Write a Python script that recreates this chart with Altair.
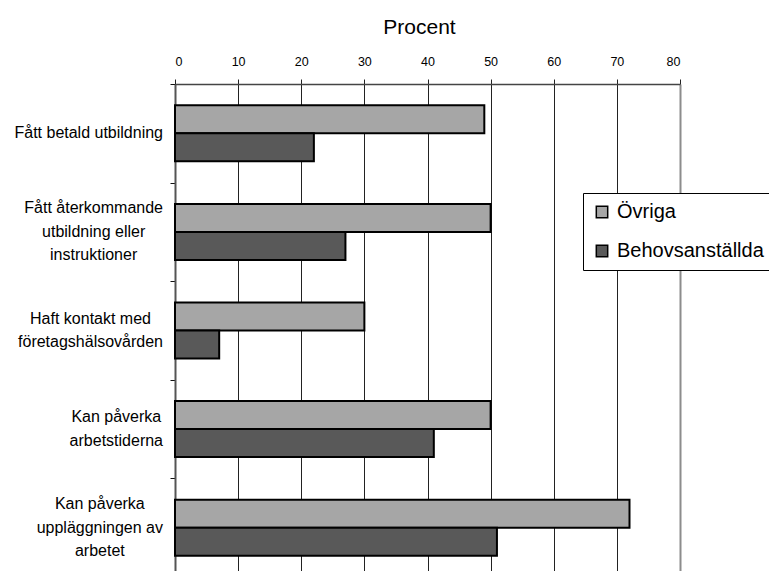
import altair as alt
import pandas as pd

# Survey items (line breaks mark how each label wraps)
categories = [
    "Fått betald utbildning",
    "Fått återkommande\nutbildning eller\ninstruktioner",
    "Haft kontakt med\nföretagshälsovården",
    "Kan påverka\narbetstiderna",
    "Kan påverka\nuppläggningen av\narbetet",
]
series = ["Övriga", "Behovsanställda"]
ovriga = [49, 50, 30, 50, 72]
behovsanstallda = [22, 27, 7, 41, 51]
x_ticks = [0, 10, 20, 30, 40, 50, 60, 70, 80]
colors = ["#a6a6a6", "#595959"]

FONT = "Liberation Sans"
W, H = 505, 487          # plot area
STEP = 98.6              # height of one category band
PAD_INNER = 0.432
BAND = STEP * (1 - PAD_INNER)
LABEL_SIZE = 16
LINE_H = 23.5
LABEL_GAP = 12           # gap between label block and the y axis

# Arial/Liberation Sans advance widths (1/1000 em) for centring wrapped labels
ADV = {
    "a": 556, "b": 556, "c": 500, "d": 556, "e": 556, "f": 278, "g": 556,
    "h": 556, "i": 222, "k": 500, "l": 222, "m": 833, "n": 556, "o": 556,
    "p": 556, "r": 333, "s": 500, "t": 278, "u": 556, "v": 500, " ": 278,
    "F": 611, "H": 722, "K": 667, "å": 556, "ä": 556, "ö": 556,
}


def block_width(label):
    return max(sum(ADV.get(ch, 556) for ch in line) for line in label.split("\n")) * LABEL_SIZE / 1000


bars = pd.DataFrame(
    {
        "item": categories * 2,
        "serie": [series[0]] * len(categories) + [series[1]] * len(categories),
        "procent": ovriga + behovsanstallda,
    }
)

# one row per label line: lines are centred on their block, blocks end at the axis
label_rows = []
for cat in categories:
    lines = cat.split("\n")
    cx = (-LABEL_GAP - block_width(cat) / 2) * 80 / W
    for i, line in enumerate(lines):
        label_rows.append(
            {
                "item": cat,
                "line": line,
                "cx": cx,
                "off": BAND / 2 + (i - (len(lines) - 1) / 2) * LINE_H,
            }
        )
labels = pd.DataFrame(label_rows)

y_scale = alt.Scale(
    domain=categories,
    range=[0, 5 * STEP],
    paddingInner=PAD_INNER,
    paddingOuter=PAD_INNER / 2,
)
x_scale = alt.Scale(domain=[0, 80], nice=False)

bar_layer = (
    alt.Chart(bars)
    .mark_bar(stroke="black", strokeWidth=2)
    .encode(
        x=alt.X(
            "procent:Q",
            scale=x_scale,
            axis=alt.Axis(
                orient="top",
                values=x_ticks,
                format="d",
                tickSize=5,
                tickColor="#222",
                labelFontSize=12.5,
                labelPadding=11,
                labelColor="black",
                domainColor="#444",
                domainWidth=1.5,
                grid=True,
                gridColor=alt.condition("datum.value == 80", alt.value("#8c8c8c"), alt.value("#222")),
                gridWidth=alt.condition("datum.value == 80", alt.value(2), alt.value(1)),
                title="Procent",
                titleFontSize=21,
                titleFontWeight="normal",
                titleColor="black",
                titlePadding=18,
                titleX=244,
            ),
        ),
        y=alt.Y(
            "item:N",
            scale=y_scale,
            sort=categories,
            axis=alt.Axis(
                labels=False,
                title=None,
                ticks=True,
                tickSize=5,
                tickWidth=1,
                tickColor="#111",
                tickOffset=-STEP / 2,
                domainColor="#555",
                domainWidth=2,
                grid=False,
            ),
        ),
        yOffset=alt.YOffset("serie:N", sort=series, scale=alt.Scale(domain=series, paddingInner=0, paddingOuter=0)),
        color=alt.Color(
            "serie:N",
            sort=series,
            scale=alt.Scale(domain=series, range=colors),
            legend=alt.Legend(
                orient="none",
                legendX=408,
                legendY=109,
                title=None,
                symbolType="square",
                symbolSize=130,
                symbolStrokeColor="black",
                symbolStrokeWidth=1.5,
                symbolOpacity=1,
                labelFontSize=20,
                labelColor="black",
                labelOffset=5,
                fillColor="white",
                strokeColor="black",
                padding=9,
                rowPadding=19,
            ),
        ),
    )
)

label_layer = (
    alt.Chart(labels)
    .mark_text(
        align="center",
        baseline="middle",
        fontSize=LABEL_SIZE,
        font=FONT,
        color="black",
    )
    .encode(
        x=alt.X("cx:Q", scale=x_scale),
        y=alt.Y("item:N", scale=y_scale, sort=categories),
        yOffset=alt.YOffset("off:Q", scale=None),
        text="line:N",
    )
)

chart = (
    alt.layer(bar_layer, label_layer)
    .resolve_scale(yOffset="independent")
    .properties(
        width=W,
        height=H,
        autosize=alt.AutoSizeParams(type="none"),
        padding={"left": 175, "top": 84, "right": 89, "bottom": 0},
        background="white",
    )
    .configure(font=FONT)
    .configure_view(stroke=None)
)

chart.save("out.html", embed_options={"renderer": "svg", "actions": False})
